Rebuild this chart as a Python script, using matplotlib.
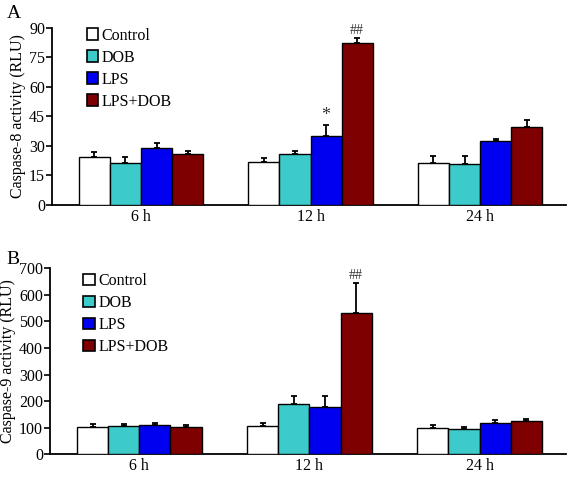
import matplotlib
matplotlib.use("Agg")
import matplotlib.pyplot as plt
from matplotlib.patches import Patch
import numpy as np

plt.rcParams['font.family'] = ['Liberation Serif', 'DejaVu Serif']

times = ['6 h', '12 h', '24 h']
groups = ['Control', 'DOB', 'LPS', 'LPS+DOB']
colors = ['#FFFFFF', '#3CCACA', '#0000F0', '#7F0000']

# Caspase-8 (panel A)
c8_mean = {'Control': [24.5, 21.6, 21.5],
           'DOB': [21.1, 25.7, 20.8],
           'LPS': [28.9, 35.1, 32.3],
           'LPS+DOB': [26.0, 82.0, 39.6]}
c8_err = {'Control': [2.5, 2.1, 3.2],
          'DOB': [3.4, 1.7, 3.9],
          'LPS': [2.7, 5.3, 1.3],
          'LPS+DOB': [1.5, 2.5, 3.5]}

# Caspase-9 (panel B)
c9_mean = {'Control': [104, 108, 100],
           'DOB': [106, 190, 94],
           'LPS': [110, 178, 119],
           'LPS+DOB': [102, 533, 126]}
c9_err = {'Control': [11, 10, 9],
          'DOB': [8, 29, 9],
          'LPS': [8, 40, 10],
          'LPS+DOB': [9, 113, 8]}

# significance marks: (panel, time index, group, label)
marks = [('A', 1, 'LPS', '*'), ('A', 1, 'LPS+DOB', '##'),
         ('B', 1, 'LPS+DOB', '##')]

fig = plt.figure(figsize=(5.67, 4.78), dpi=100)
axA = fig.add_axes([0.0917, 0.571, 0.9065, 0.3714])
axB = fig.add_axes([0.088, 0.0496, 0.910, 0.389])

x = np.arange(len(times))
bw = 0.183
offsets = (np.arange(4) - 1.5) * bw


def draw(ax, means, errs, ymax, ystep, ylabel, panel, leg_anchor):
    for i, g in enumerate(groups):
        xs = x + offsets[i]
        ax.bar(xs, means[g], width=bw, color=colors[i], edgecolor='black',
               linewidth=1.0, zorder=3)
        ax.errorbar(xs, means[g], yerr=[np.zeros(3), errs[g]], fmt='none',
                    ecolor='black', elinewidth=1.3, capsize=2.5, capthick=1.3,
                    zorder=2)
    for p, ti, g, lab in marks:
        if p != panel:
            continue
        gi = groups.index(g)
        top = means[g][ti] + errs[g][ti]
        fs = 13 if lab == '*' else 10
        ax.text(x[ti] + offsets[gi], top + ymax * 0.005, lab, ha='center',
                va='bottom', fontsize=fs, color='#333333')
    ax.set_xlim(-0.525, 2.507)
    ax.set_ylim(0, ymax)
    ax.set_yticks(np.arange(0, ymax + 1, ystep))
    ax.set_xticks(x)
    ax.set_xticklabels(times)
    ax.tick_params(axis='x', length=0, pad=3, labelsize=11.5)
    ax.tick_params(axis='y', length=4, width=1.2, pad=1, labelsize=11.5)
    for s in ['top', 'right']:
        ax.spines[s].set_visible(False)
    for s in ['left', 'bottom']:
        ax.spines[s].set_linewidth(1.3)
    ax.set_ylabel(ylabel, fontsize=11.5, labelpad=2)
    handles = [Patch(facecolor=colors[i], edgecolor='black', linewidth=1.2)
               for i in range(4)]
    ax.legend(handles, groups, loc='upper left', bbox_to_anchor=leg_anchor,
              frameon=False, fontsize=11.5, handlelength=0.72, handleheight=0.72,
              handletextpad=0.2, labelspacing=0.38, borderpad=0,
              borderaxespad=0)


draw(axA, c8_mean, c8_err, 90, 15, 'Caspase-8 activity (RLU)', 'A',
     (0.068, 1.0))
draw(axB, c9_mean, c9_err, 700, 100, 'Caspase-9 activity (RLU)', 'B',
     (0.065, 0.975))

fig.text(0.012, 0.99, 'A', fontsize=14, va='top', ha='left')
fig.text(0.012, 0.475, 'B', fontsize=14, va='top', ha='left')

fig.savefig('out.png', dpi=100)
